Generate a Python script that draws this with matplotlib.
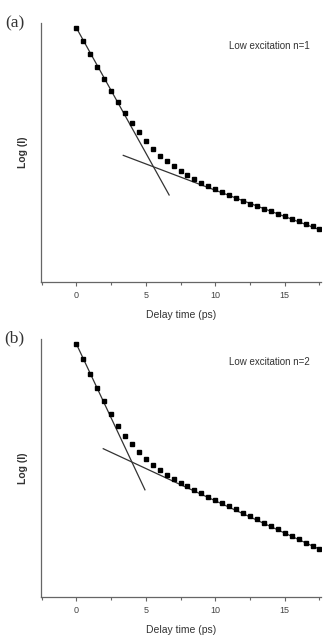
import numpy as np
import matplotlib
matplotlib.use("Agg")
import matplotlib.pyplot as plt
from matplotlib.ticker import MultipleLocator

# delay times (ps), same grid for both panels
delay = np.arange(0, 18, 0.5)

# log intensity, arbitrary units
log_a = [9.82, 9.32, 8.82, 8.31, 7.82, 7.37, 6.94, 6.53, 6.14, 5.78,
         5.46, 5.15, 4.88, 4.67, 4.48, 4.30, 4.13, 3.98, 3.84, 3.72,
         3.60, 3.46, 3.36, 3.24, 3.14, 3.02, 2.93, 2.83, 2.73, 2.64,
         2.54, 2.45, 2.36, 2.25, 2.16, 2.05]
# panel (b)
log_b = [9.81, 9.21, 8.64, 8.09, 7.58, 7.08, 6.64, 6.25, 5.92, 5.62,
         5.37, 5.13, 4.92, 4.73, 4.57, 4.42, 4.29, 4.16, 4.03, 3.90,
         3.77, 3.65, 3.52, 3.40, 3.27, 3.14, 3.02, 2.89, 2.76, 2.63,
         2.50, 2.38, 2.25, 2.12, 1.99, 1.86]

# straight-line fits (fast and slow components)
fast_a_x, fast_a_y = [0, 6.68], [9.82, 3.36]
slow_a_x, slow_a_y = [3.38, 17.5], [4.89, 2.02]
fast_b_x, fast_b_y = [0, 4.94], [9.81, 4.16]
slow_b_x, slow_b_y = [1.94, 17.5], [5.75, 1.86]

panels = [
    ("(a)", "Low excitation n=1", log_a, fast_a_x, fast_a_y, slow_a_x, slow_a_y),
    ("(b)", "Low excitation n=2", log_b, fast_b_x, fast_b_y, slow_b_x, slow_b_y),
]

sans = ["Liberation Sans", "DejaVu Sans"]

fig = plt.figure(figsize=(3.36, 6.36), dpi=100)
boxes = [[0.122, 0.5566, 0.833, 0.4072], [0.122, 0.0608, 0.833, 0.4064]]

for box, (tag, note, logI, fx, fy, sx, sy) in zip(boxes, panels):
    ax = fig.add_axes(box)
    ax.plot(fx, fy, color="#333333", lw=0.9)
    ax.plot(sx, sy, color="#333333", lw=0.9)
    ax.plot(delay, logI, ls="none", marker="s", ms=2.8, color="black")

    ax.set_xlim(-2.54, 17.6)
    ax.set_ylim(0, 10)
    for s in ["top", "right"]:
        ax.spines[s].set_visible(False)
    for s in ["left", "bottom"]:
        ax.spines[s].set_color("#666666")
        ax.spines[s].set_linewidth(0.9)
    ax.set_yticks([])
    ax.xaxis.set_major_locator(MultipleLocator(5))
    ax.xaxis.set_minor_locator(MultipleLocator(2.5))
    ax.tick_params(axis="x", which="major", length=3, width=0.8, color="#666666",
                   labelsize=6.5, labelcolor="#444444", pad=3.5)
    ax.tick_params(axis="x", which="minor", length=2, width=0.8, color="#666666")
    for lab in ax.get_xticklabels():
        lab.set_family(sans)

    ax.set_xlabel("Delay time (ps)", fontsize=7.5, family=sans, color="#333333", labelpad=7)
    ax.set_ylabel("Log (I)", fontsize=7.5, family=sans, color="#333333",
                  fontweight="bold", labelpad=9)
    ax.text(0.96, 0.91, note, transform=ax.transAxes, ha="right", va="center",
            fontsize=7, family=sans, color="#333333")
    ax.text(-0.095, 1.0, tag, transform=ax.transAxes, ha="center", va="center",
            fontsize=12.5, family=["Liberation Serif", "DejaVu Serif"], color="#333333")

fig.savefig("out.png", dpi=100)
